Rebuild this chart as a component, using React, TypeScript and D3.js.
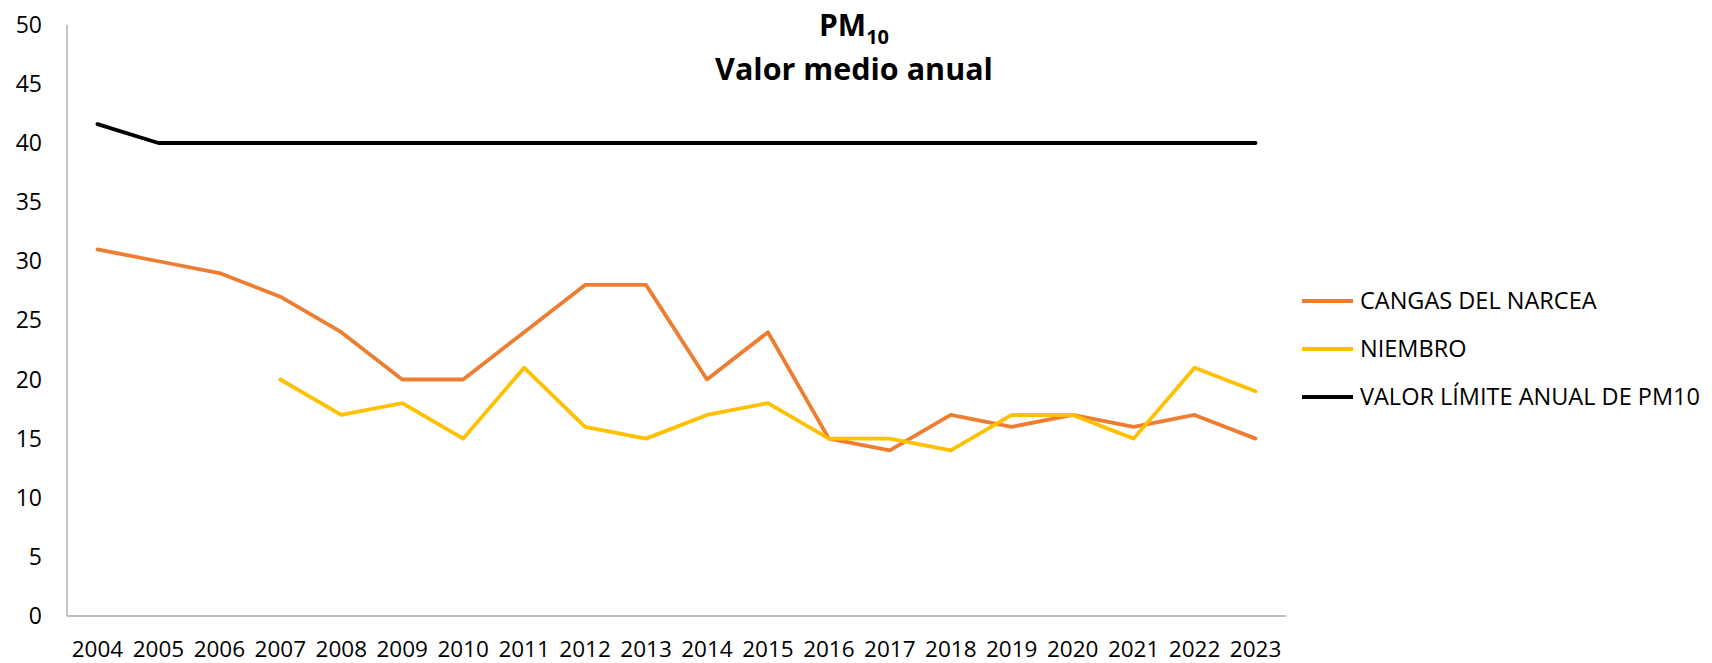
import React from "react";
import * as d3 from "d3";

const years = ["2004","2005","2006","2007","2008","2009","2010","2011","2012","2013","2014","2015","2016","2017","2018","2019","2020","2021","2022","2023"];
const cangas: (number | null)[] = [31,30,29,27,24,20,20,24,28,28,20,24,15,14,17,16,17,16,17,15];
const niembro: (number | null)[] = [null,null,null,20,17,18,15,21,16,15,17,18,15,15,14,17,17,15,21,19];
const limite: (number | null)[] = [41.6,40,40,40,40,40,40,40,40,40,40,40,40,40,40,40,40,40,40,40];
const yTicks = [0,5,10,15,20,25,30,35,40,45,50];

const series = [
  { name: "CANGAS DEL NARCEA", values: cangas, color: "#ED7D31" },
  { name: "NIEMBRO", values: niembro, color: "#FFC000" },
  { name: "VALOR LÍMITE ANUAL DE PM10", values: limite, color: "#000000" },
];

export default function App() {
  const W = 1712, H = 663;
  const x = d3.scaleBand<string>().domain(years).range([67, 1286]);
  const y = d3.scaleLinear().domain([0, 50]).range([616, 24.75]);
  const cx = (yr: string) => (x(yr) as number) + x.bandwidth() / 2;
  const font = "'Open Sans', sans-serif";
  const line = d3.line<{ yr: string; v: number | null }>()
    .defined(d => d.v != null)
    .x(d => cx(d.yr))
    .y(d => y(d.v as number));

  return (
    <svg width={W} height={H} style={{ position: "absolute", left: 0, top: 0 }} fontFamily={font}>
      <rect width={W} height={H} fill="#fff" />
      <line x1={67} x2={67} y1={y(50)} y2={y(0)} stroke="#a6a6a6" strokeWidth={1.3} />
      <line x1={67} x2={1286} y1={y(0)} y2={y(0)} stroke="#a6a6a6" strokeWidth={1.3} />
      {yTicks.map(t => (
        <text key={t} x={42} y={y(t)} dy="0.35em" textAnchor="end" fontSize={23} fill="#000">{t}</text>
      ))}
      {years.map(yr => (
        <text key={yr} x={cx(yr)} y={656.5} textAnchor="middle" fontSize={22.5} fill="#000">{yr}</text>
      ))}
      {series.map(s => (
        <path key={s.name} d={line(years.map((yr, i) => ({ yr, v: s.values[i] }))) || ""}
          fill="none" stroke={s.color} strokeWidth={3.8} strokeLinejoin="round" strokeLinecap="round" />
      ))}
      <text x={854} y={36} textAnchor="middle" fontSize={30} fontWeight="bold" fill="#000">
        PM<tspan fontSize={20} dy={8}>10</tspan>
      </text>
      <text x={854} y={80} textAnchor="middle" fontSize={30.5} fontWeight="bold" fill="#000">Valor medio anual</text>
      {series.map((s, i) => {
        const ly = 301 + i * 48;
        return (
          <g key={s.name}>
            <line x1={1302} x2={1353} y1={ly} y2={ly} stroke={s.color} strokeWidth={3.8} />
            <text x={1360} y={ly} dy="0.36em" fontSize={23.5} fill="#000">{s.name}</text>
          </g>
        );
      })}
    </svg>
  );
}
